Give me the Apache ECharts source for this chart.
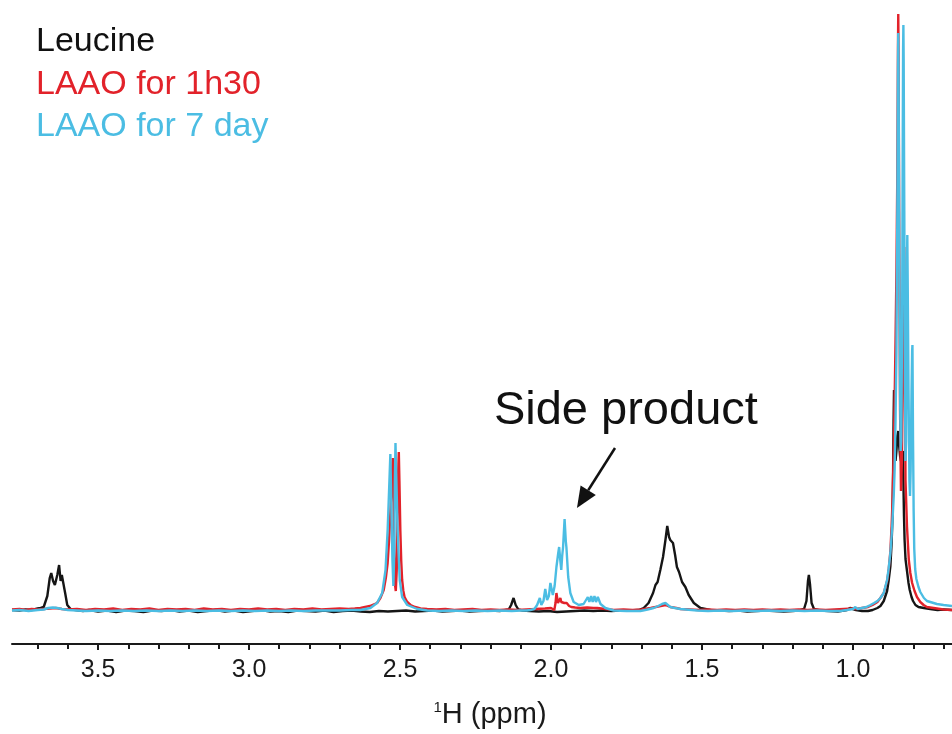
<!DOCTYPE html>
<html>
<head>
<meta charset="utf-8">
<title>1H NMR – Leucine / LAAO</title>
<script src="https://cdn.jsdelivr.net/npm/echarts@6/dist/echarts.min.js"></script>
<style>
  html, body { margin: 0; padding: 0; background: #ffffff; }
  #chart { width: 952px; height: 734px; }
</style>
</head>
<body>
<div id="chart"></div>
<script>
// Chemical-shift ticks (ppm)
const majorTicks = [1.0, 1.5, 2.0, 2.5, 3.0, 3.5];
const minorTicks = [0.7, 0.8, 0.9, 1.1, 1.2, 1.3, 1.4, 1.6, 1.7, 1.8, 1.9,
                    2.1, 2.2, 2.3, 2.4, 2.6, 2.7, 2.8, 2.9, 3.1, 3.2, 3.3, 3.4, 3.6, 3.7];

const seriesNames = ['Leucine', 'LAAO for 1h30', 'LAAO for 7 day'];

// Spectrum traces: [ppm, intensity (a.u.)]
const leucine = [
  [3.785, 1], [3.76, 0.5], [3.74, 1.5], [3.72, 1], [3.70, 2.5], [3.69, 3], [3.680, 4],
  [3.668, 15], [3.660, 33], [3.655, 38], [3.649, 30], [3.643, 26], [3.635, 36], [3.629, 46],
  [3.624, 30], [3.620, 36], [3.615, 34], [3.609, 18], [3.602, 6], [3.591, 2], [3.575, 1],
  [3.55, 0], [3.53, 1], [3.50, -0.5], [3.47, 0.5], [3.44, -1], [3.41, 0.5], [3.38, 0],
  [3.35, -1], [3.32, 0.5], [3.29, 0], [3.26, 1], [3.23, -0.5], [3.20, 0.5], [3.17, -1],
  [3.14, 0], [3.11, 1], [3.08, -0.5], [3.05, 0.5], [3.02, -1], [2.99, 0], [2.96, 1],
  [2.93, -0.5], [2.90, 0], [2.87, -1], [2.84, 0.5], [2.81, 0], [2.78, -0.5], [2.75, 0.5],
  [2.72, -1], [2.69, 0], [2.66, 0.5], [2.63, -0.5], [2.60, -1], [2.57, 0], [2.54, -0.5],
  [2.51, 0], [2.48, 0.5], [2.45, -0.5], [2.42, 0], [2.39, 0.5], [2.36, -0.5], [2.33, 0],
  [2.30, 0.5], [2.27, -0.5], [2.24, 0], [2.20, 0.5], [2.17, 0], [2.150, 1], [2.140, 1.5],
  [2.132, 6], [2.124, 13], [2.117, 6], [2.108, 1.5], [2.095, 0.5], [2.07, 0], [2.04, -0.5],
  [2.01, 0], [1.98, -1], [1.95, -0.5], [1.92, 0], [1.89, 0.5], [1.86, 0], [1.83, 0.5],
  [1.80, 0], [1.77, 0.5], [1.74, 0.5], [1.71, 1], [1.693, 3], [1.677, 8], [1.662, 18],
  [1.654, 26], [1.647, 29], [1.638, 41], [1.629, 54], [1.621, 71], [1.615, 85], [1.609, 74],
  [1.605, 71], [1.596, 68], [1.589, 56], [1.583, 44], [1.576, 39], [1.566, 29], [1.555, 24],
  [1.544, 16], [1.527, 8], [1.505, 3], [1.472, 1], [1.44, 0.5], [1.41, 0], [1.38, 0.5],
  [1.35, -0.5], [1.32, 0], [1.29, 0.5], [1.26, 0], [1.23, -0.5], [1.20, 0], [1.18, 0.5],
  [1.162, 2], [1.154, 10], [1.149, 30], [1.146, 36], [1.142, 26], [1.137, 8], [1.129, 2],
  [1.11, 0.5], [1.08, 0], [1.05, -0.5], [1.02, 1], [1.01, 3], [1.00, 2], [0.99, 1],
  [0.97, 0], [0.95, 0], [0.935, 1], [0.919, 3], [0.909, 5], [0.898, 10], [0.887, 20],
  [0.882, 30], [0.876, 45], [0.872, 68], [0.869, 94], [0.867, 140], [0.8655, 190],
  [0.864, 221], [0.862, 175], [0.859, 150], [0.856, 160], [0.853, 175], [0.850, 180],
  [0.847, 165], [0.844, 155], [0.841, 150], [0.838, 155], [0.835, 160], [0.833, 130],
  [0.831, 95], [0.829, 71], [0.826, 52], [0.821, 40], [0.816, 28], [0.812, 21], [0.806, 14],
  [0.801, 10], [0.793, 6], [0.783, 4], [0.765, 3], [0.744, 2], [0.72, 1], [0.70, 1.5],
  [0.672, 1]
];

const laao1h30 = [
  [3.785, 1.5], [3.76, 2], [3.74, 1], [3.72, 2], [3.70, 1.5], [3.68, 2], [3.66, 2.5],
  [3.64, 3], [3.62, 2], [3.60, 1.5], [3.57, 2], [3.54, 1], [3.51, 2], [3.48, 1.5],
  [3.45, 2.5], [3.42, 1], [3.39, 2], [3.36, 1.5], [3.33, 2.5], [3.30, 1], [3.27, 2],
  [3.24, 1.5], [3.21, 2], [3.18, 1], [3.15, 2.5], [3.12, 1.5], [3.09, 2], [3.06, 1],
  [3.03, 2], [3.00, 1.5], [2.97, 2.5], [2.94, 1.5], [2.91, 2], [2.88, 1], [2.85, 2],
  [2.82, 1.5], [2.79, 2.5], [2.76, 1.5], [2.73, 2], [2.70, 2.5], [2.67, 2], [2.65, 2.5],
  [2.631, 3], [2.60, 5], [2.576, 8], [2.565, 13], [2.554, 21], [2.547, 33], [2.541, 48],
  [2.536, 72], [2.532, 98], [2.528, 125], [2.526, 141], [2.524, 153], [2.522, 120],
  [2.519, 60], [2.516, 25], [2.514, 20], [2.511, 40], [2.508, 100], [2.506, 140],
  [2.504, 159], [2.502, 130], [2.499, 81], [2.496, 50], [2.493, 31], [2.489, 20],
  [2.485, 14], [2.476, 9], [2.465, 6], [2.45, 4], [2.432, 2.5], [2.41, 2], [2.38, 1.5],
  [2.35, 2], [2.32, 1], [2.29, 1.5], [2.26, 2], [2.23, 1], [2.20, 1.5], [2.17, 1],
  [2.14, 1.5], [2.11, 1], [2.08, 1.5], [2.05, 2], [2.02, 2.5], [2.00, 3], [1.994, 2],
  [1.989, 1], [1.985, 8], [1.982, 18], [1.979, 12], [1.977, 8], [1.973, 10], [1.969, 13],
  [1.966, 9], [1.963, 7], [1.960, 11], [1.956, 8], [1.951, 6], [1.948, 8], [1.945, 8],
  [1.940, 5], [1.933, 4], [1.92, 3.5], [1.903, 3], [1.88, 3.5], [1.86, 3], [1.847, 3],
  [1.82, 2], [1.792, 1], [1.76, 1.5], [1.73, 1], [1.70, 1.5], [1.67, 3], [1.645, 4.5],
  [1.621, 6], [1.605, 4], [1.585, 3], [1.571, 2], [1.54, 1.5], [1.51, 1], [1.48, 1.5],
  [1.45, 1], [1.42, 1.5], [1.39, 1], [1.36, 1.5], [1.33, 1], [1.30, 1.5], [1.27, 1],
  [1.24, 1.5], [1.21, 1], [1.18, 1.5], [1.15, 1], [1.12, 1.5], [1.09, 1], [1.06, 1.5],
  [1.03, 2], [1.00, 2.5], [0.99, 2], [0.97, 3], [0.95, 4], [0.935, 6], [0.919, 9],
  [0.909, 13], [0.898, 18], [0.887, 30], [0.882, 40], [0.876, 60], [0.872, 85],
  [0.869, 110], [0.865, 160], [0.862, 210], [0.859, 270], [0.856, 340], [0.853, 440],
  [0.851, 560], [0.850, 597], [0.849, 560], [0.847, 400], [0.844, 200], [0.841, 120],
  [0.838, 150], [0.835, 230], [0.832, 320], [0.830, 364], [0.828, 250], [0.826, 131],
  [0.821, 84], [0.815, 51], [0.810, 38], [0.804, 28], [0.796, 20], [0.788, 14], [0.777, 9],
  [0.766, 6], [0.755, 4], [0.722, 2.5], [0.70, 1.5], [0.672, 1]
];

const laao7day = [
  [3.785, 0.5], [3.76, 1], [3.73, 0], [3.70, 1], [3.68, 1.5], [3.665, 3], [3.65, 3.5],
  [3.635, 3], [3.62, 2], [3.60, 1], [3.57, 0.5], [3.54, 0], [3.50, 0.5], [3.46, 0],
  [3.42, 0.5], [3.38, 0], [3.34, 0.5], [3.30, 0], [3.26, 0.5], [3.22, 0], [3.18, 0.5],
  [3.14, 0], [3.10, 0.5], [3.06, 0], [3.02, 0.5], [2.98, 0], [2.94, 0.5], [2.90, 0],
  [2.86, 0.5], [2.82, 0], [2.78, 0.5], [2.74, 0.5], [2.70, 0.5], [2.66, 1], [2.631, 1],
  [2.598, 3], [2.576, 8], [2.559, 18], [2.548, 41], [2.541, 81], [2.535, 131], [2.532, 157],
  [2.529, 110], [2.525, 50], [2.522, 25], [2.519, 60], [2.517, 130], [2.515, 168],
  [2.512, 130], [2.508, 81], [2.501, 31], [2.493, 14], [2.476, 6], [2.443, 2], [2.41, 0.5],
  [2.37, 0], [2.33, 0.5], [2.29, 0], [2.25, 0.5], [2.21, 0], [2.17, 0.5], [2.13, 0],
  [2.10, 0.5], [2.08, 0.5], [2.068, 1], [2.055, 2], [2.046, 6], [2.037, 13], [2.032, 6],
  [2.025, 10], [2.019, 22], [2.013, 11], [2.007, 15], [2.002, 28], [1.994, 16], [1.988, 25],
  [1.982, 44], [1.976, 58], [1.973, 64], [1.969, 50], [1.966, 41], [1.963, 55], [1.960, 64],
  [1.955, 92], [1.951, 70], [1.949, 64], [1.943, 34], [1.936, 18], [1.925, 9], [1.908, 6],
  [1.892, 7], [1.878, 14], [1.873, 9], [1.867, 15], [1.862, 9], [1.856, 15], [1.851, 9],
  [1.845, 14], [1.836, 7], [1.820, 3], [1.792, 0.5], [1.75, 0], [1.704, 0], [1.680, 1.5],
  [1.660, 3], [1.645, 5], [1.632, 7], [1.621, 8], [1.605, 4], [1.590, 3], [1.571, 2],
  [1.516, 0.5], [1.48, 0], [1.44, 0.5], [1.40, 0], [1.36, 0.5], [1.32, 0], [1.28, 0.5],
  [1.24, 0], [1.20, 0.5], [1.16, 0], [1.12, 0.5], [1.08, 0], [1.042, 0], [1.02, 1],
  [1.00, 2], [0.992, 4], [0.985, 2], [0.97, 3], [0.955, 4], [0.942, 6], [0.93, 8],
  [0.919, 10], [0.909, 13], [0.898, 18], [0.887, 31], [0.882, 42], [0.876, 58], [0.872, 75],
  [0.869, 91], [0.865, 115], [0.862, 141], [0.859, 191], [0.856, 258], [0.853, 400],
  [0.851, 540], [0.850, 578], [0.849, 540], [0.847, 400], [0.844, 220], [0.842, 160],
  [0.840, 170], [0.837, 300], [0.835, 480], [0.834, 560], [0.833, 586], [0.832, 550],
  [0.830, 400], [0.828, 230], [0.826, 150], [0.824, 170], [0.822, 280], [0.821, 350],
  [0.820, 376], [0.819, 340], [0.816, 220], [0.813, 130], [0.811, 115], [0.809, 140],
  [0.806, 220], [0.804, 260], [0.803, 266], [0.801, 170], [0.799, 100], [0.797, 62],
  [0.794, 42], [0.790, 32], [0.783, 24], [0.777, 19], [0.765, 13], [0.755, 10], [0.744, 9],
  [0.722, 7], [0.70, 6], [0.672, 5]
];

// Annotation anchors in data space [ppm, intensity]
const sideProductLabelAt = [1.752, 200];
const arrowTailAt = [1.788, 163];
const arrowTipAt = [1.914, 103];

const FONT = 'Liberation Sans, Arial, Helvetica, sans-serif';
const INK = '#1a1a1a';
const colors = ['#151515', '#e2222a', '#4bbde3'];
const legendColors = ['#111111', '#e2222a', '#4bbde3'];

const chart = echarts.init(document.getElementById('chart'), null, { renderer: 'canvas' });

const xCommon = {
  type: 'value',
  min: 0.672,
  max: 3.785,
  inverse: true,
  position: 'bottom',
  splitLine: { show: false }
};

const traces = [leucine, laao1h30, laao7day];

const option = {
  animation: false,
  backgroundColor: '#ffffff',
  grid: { left: 12, right: 0, top: 12, bottom: 90, containLabel: false, outerBoundsMode: 'none' },
  xAxis: [
    Object.assign({}, xCommon, {
      axisLine: { show: true, onZero: false, lineStyle: { color: INK, width: 2 } },
      axisTick: { show: true, customValues: majorTicks, length: 6, lineStyle: { color: INK, width: 2 } },
      axisLabel: {
        show: true,
        customValues: majorTicks,
        formatter: (v) => Number(v).toFixed(1),
        color: INK,
        fontSize: 25,
        fontFamily: FONT,
        margin: 14
      }
    }),
    Object.assign({}, xCommon, {
      axisLine: { show: false, onZero: false },
      axisTick: { show: true, customValues: minorTicks, length: 5, lineStyle: { color: INK, width: 2 } },
      axisLabel: { show: false }
    })
  ],
  yAxis: { type: 'value', min: -33, max: 599, show: false },
  series: traces.map((d, i) => ({
    name: seriesNames[i],
    type: 'line',
    xAxisIndex: 0,
    data: d,
    showSymbol: false,
    symbol: 'none',
    smooth: false,
    clip: false,
    lineStyle: { color: colors[i], width: 2.4 },
    z: 2 + i
  }))
};

chart.setOption(option);

// Legend text block, axis title and the "Side product" callout
const toPx = (p) => chart.convertToPixel({ xAxisIndex: 0, yAxisIndex: 0 }, p);
const tip = toPx(arrowTipAt);
const tail = toPx(arrowTailAt);
const label = toPx(sideProductLabelAt);
const dx = tip[0] - tail[0], dy = tip[1] - tail[1];
const len = Math.sqrt(dx * dx + dy * dy);
const ux = dx / len, uy = dy / len;
const headLen = 21, headHalf = 9;
const bx = tip[0] - ux * headLen, by = tip[1] - uy * headLen;

chart.setOption({
  graphic: [
    ...seriesNames.map((n, i) => ({
      type: 'text',
      x: 36,
      y: 42 + i * 42.5,
      style: {
        text: n, fill: legendColors[i], fontSize: 34, fontFamily: FONT,
        align: 'left', verticalAlign: 'middle'
      }
    })),
    {
      type: 'text',
      x: 490,
      y: 715,
      style: {
        text: '{sup|1}{main|H (ppm)}',
        align: 'center',
        verticalAlign: 'middle',
        fill: INK,
        rich: {
          sup: { fontSize: 15, fontFamily: FONT, fill: INK, verticalAlign: 'top', lineHeight: 30 },
          main: { fontSize: 29, fontFamily: FONT, fill: INK, lineHeight: 30 }
        }
      }
    },
    {
      type: 'text',
      x: label[0],
      y: label[1],
      style: {
        text: 'Side product', align: 'center', verticalAlign: 'middle',
        fill: '#111111', fontSize: 47, fontFamily: FONT
      }
    },
    {
      type: 'line',
      shape: { x1: tail[0], y1: tail[1], x2: bx, y2: by },
      style: { stroke: '#111111', lineWidth: 2.5 }
    },
    {
      type: 'polygon',
      shape: {
        points: [
          [tip[0], tip[1]],
          [bx - uy * headHalf, by + ux * headHalf],
          [bx + uy * headHalf, by - ux * headHalf]
        ]
      },
      style: { fill: '#111111' }
    }
  ]
});
</script>
</body>
</html>
